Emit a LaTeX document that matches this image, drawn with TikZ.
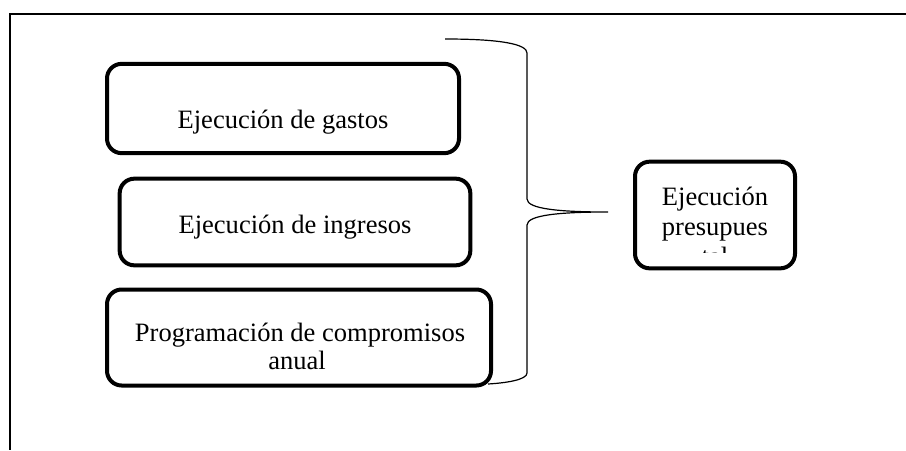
\documentclass[tikz,border=0pt]{standalone}
\usepackage{fontspec}
\setmainfont{Liberation Serif}
\begin{document}
\begin{tikzpicture}[x=0.75pt,y=-0.75pt,
  box/.style={draw,line width=3pt,rounded corners=11pt,inner sep=0pt},
  lbl/.style={font=\fontsize{19.9}{23}\selectfont,anchor=base,inner sep=0pt},
  frame/.style={line width=1.5pt},
  brace/.style={line width=0.9pt}]
\useasboundingbox (0,0) rectangle (906,450);
\fill[white] (0,0) rectangle (906,450);
% frame
\draw[frame] (906,14) -- (10,14) -- (10,450);
% boxes
\node[box,minimum width=264pt,minimum height=67pt] (b1) at (283,108.5) {};
\node[box,minimum width=263pt,minimum height=65pt] (b2) at (295,222) {};
\node[box,minimum width=288pt,minimum height=72pt] (b3) at (299,337.5) {};
\node[box,minimum width=120pt,minimum height=80pt] (b4) at (715,215) {};
% labels
\node[lbl] (t1) at (283,128) {Ejecución de gastos};
\node[lbl] (t2) at (295,233) {Ejecución de ingresos};
\node[lbl] (t3a) at (300,341) {Programación de compromisos};
\node[lbl] (t3b) at (297,369) {anual};
\begin{scope}
  \clip (636,163) rectangle (794,252);
  \node[lbl] (t4a) at (715,205) {Ejecución};
  \node[lbl] (t4b) at (715,235) {presupues};
  \node[lbl] (t4c) at (715,265) {tal};
\end{scope}
% brace
\coordinate (bt) at (445,39);
\coordinate (tip) at (608,212);
\coordinate (bb) at (488,384);
\draw[brace] (bt) .. controls (500,39) and (527,44) .. (527,53)
  -- (527,199) .. controls (527,209) and (560,212) .. (tip)
  .. controls (560,212) and (527,215) .. (527,225)
  -- (527,373) .. controls (527,380) and (505,383) .. (bb);
\end{tikzpicture}
\end{document}
